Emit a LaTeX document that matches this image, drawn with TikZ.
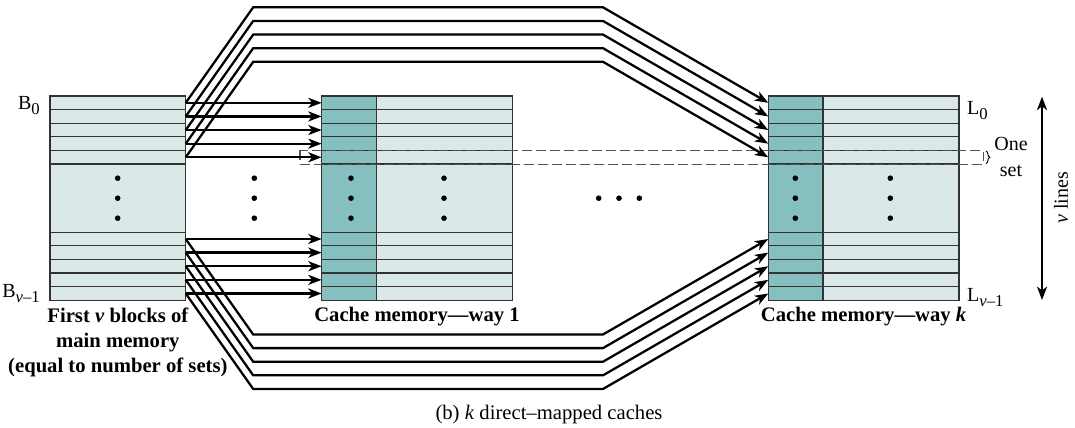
\documentclass[tikz,border=0pt]{standalone}
\usepackage{fontspec}
\setmainfont{Liberation Serif}
\usetikzlibrary{arrows.meta,calc,decorations.pathreplacing}
\definecolor{rowfill}{HTML}{DAE8E8}
\definecolor{tagfill}{HTML}{85BFBF}
\definecolor{blkline}{HTML}{333333}
\newcommand{\lowsub}[1]{\raisebox{-3.6pt}{\fontsize{12.5}{12.5}\selectfont #1}}
\begin{document}
\begin{tikzpicture}[x=0.75pt, y=-0.75pt, >={Stealth[length=10pt,width=7.5pt,inset=2.8pt]},
  blk/.style={draw=blkline, line width=0.95pt, inner sep=0pt, outer sep=0pt, minimum height=10.215pt},
  memrow/.style={blk, fill=rowfill, minimum width=101.8pt},
  tagrow/.style={blk, fill=tagfill, minimum width=41pt},
  datarow/.style={blk, fill=rowfill, minimum width=102pt},
  midrow/.style={minimum height=51.08pt},
  conn/.style={->, line width=1.7pt},
  lbl/.style={font=\fontsize{15.5}{18.75}\selectfont\bfseries, align=center, anchor=north, inner sep=0pt},
  tag/.style={font=\fontsize{15}{17}\selectfont, inner sep=0pt},
  setbox/.style={draw=blkline!85, line width=0.9pt, dash pattern=on 7pt off 3.5pt},
  brc/.style={decorate, decoration={brace, amplitude=3pt}, line width=0.7pt}]
\useasboundingbox (0,0) rectangle (1075,428);

\foreach \i in {0,...,4} {
  \node[memrow] (MT\i) at (117.85,{102.81+13.62*\i}) {};
  \node[memrow] (MB\i) at (117.85,{239.0+13.62*\i}) {};
}
\node[memrow, midrow] (MM) at (117.85,198.15) {};
\foreach \c/\dx in {1/0,k/446.6} {
  \foreach \i in {0,...,4} {
    \node[tagrow] (T\c T\i) at ({349+\dx},{102.81+13.62*\i}) {};
    \node[datarow] (D\c T\i) at ({444.3+\dx},{102.81+13.62*\i}) {};
    \node[tagrow] (T\c B\i) at ({349+\dx},{239.0+13.62*\i}) {};
    \node[datarow] (D\c B\i) at ({444.3+\dx},{239.0+13.62*\i}) {};
  }
  \node[tagrow, midrow] (T\c M) at ({349+\dx},198.15) {};
  \node[datarow, midrow] (D\c M) at ({444.3+\dx},198.15) {};
}

\foreach \x in {117.7,254.3,351,444,795.3,890.3}
  \foreach \y in {178.2,198.2,218.2} \fill (\x,\y) circle (2.1pt);
\foreach \x in {598.7,619,639.3} \fill (\x,198.2) circle (2.1pt);

\draw[setbox] ($(T1T4.north west)+(-21.7,0)$) rectangle ($(DkT4.south east)+(24.3,0)$);
\draw[brc] ($(DkT4.north east)+(27,0.5)$) -- ($(DkT4.south east)+(27,-0.5)$);

\foreach \i in {0,...,4} {
  \draw[conn] (MT\i.east) -- (T1T\i.west);
  \draw[conn] (MB\i.east) -- (T1B\i.west);
  \draw[conn] (MT\i.east) -- ++(67.5,-95.5) -- ($(TkT\i.west)+(-165.3,-95.5)$) -- (TkT\i.west);
  \draw[conn] (MB\i.east) -- ++(67.5,95.5) -- ($(TkB\i.west)+(-165.3,95.5)$) -- (TkB\i.west);
}

\node[tag, anchor=base east] (B0) at ($(MT0.west)+(-10,6.5)$) {B\lowsub{0}};
\node[tag, anchor=base east] (Bv) at ($(MB4.west)+(-10,4)$) {B\lowsub{\textit{v}–1}};
\node[tag, anchor=base west] (L0) at ($(DkT0.east)+(8,11.5)$) {L\lowsub{0}};
\node[tag, anchor=base west] (Lv) at ($(DkB4.east)+(8,8.5)$) {L\lowsub{\textit{v}–1}};
\node[font=\fontsize{15}{20}\selectfont, align=center, inner sep=0pt] (oneset) at (1011,157) {One\\set};

\coordinate (vtop) at (1042,96.7);
\coordinate (vbot) at (1042,300);
\draw[<->, line width=1.7pt] (vtop) -- (vbot);
\node[font=\fontsize{15}{17}\selectfont, rotate=90, inner sep=0pt] (vlines) at (1061,198) {\textit{v} lines};

\node[lbl] (memlbl) at ($(MB4.south)+(0,7)$) {First \textit{v} blocks of\\main memory\\(equal to number of sets)};
\node[lbl] (waylbl) at ($(T1B4.south west)!0.5!(D1B4.south east)+(0,7)$) {Cache memory—way 1};
\node[lbl] (wayklbl) at ($(TkB4.south west)!0.5!(DkB4.south east)+(0,7)$) {Cache memory—way \textit{k}};
\node[font=\fontsize{15.5}{18}\selectfont, inner sep=0pt] (caption) at (549,415) {(b) \textit{k} direct–mapped caches};
\end{tikzpicture}
\end{document}
